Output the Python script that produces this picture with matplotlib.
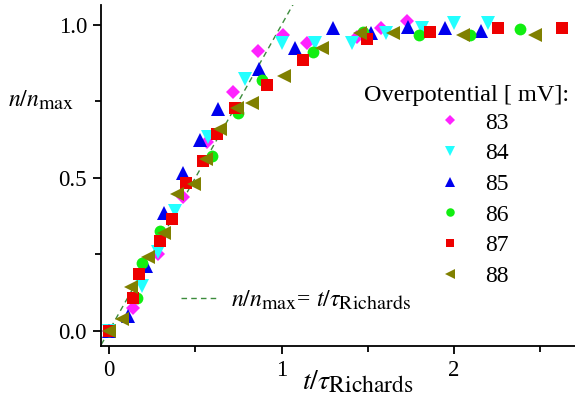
import matplotlib
matplotlib.use("Agg")
import matplotlib.pyplot as plt
from matplotlib.ticker import MultipleLocator
import matplotlib._mathtext as _mt

_mt.SHRINK_FACTOR = 0.85

plt.rcParams['font.family'] = ['Liberation Serif', 'DejaVu Serif']
plt.rcParams['mathtext.fontset'] = 'stix'

labels = ['83', '84', '85', '86', '87', '88']
colors = ['#ff22ff', '#22ffff', '#0000ee', '#11ee11', '#ee0000', '#808000']
markers = ['D', 'v', '^', 'o', 's', '<']
sizes = [7, 9.5, 9.5, 8.5, 8, 9.5]

x83 = [0.0, 0.139, 0.284, 0.429, 0.568, 0.719, 0.864, 1.009, 1.148, 1.438, 1.577, 1.728]
y83 = [0.0, 0.075, 0.252, 0.438, 0.618, 0.781, 0.915, 0.967, 0.941, 0.961, 0.990, 1.013]

x84 = [0.0, 0.191, 0.284, 0.383, 0.574, 0.788, 1.003, 1.194, 1.409, 1.606, 1.814, 2.000, 2.197]
y84 = [0.0, 0.147, 0.258, 0.392, 0.634, 0.824, 0.941, 0.941, 0.941, 0.974, 0.990, 1.007, 1.007]

x85 = [0.0, 0.110, 0.214, 0.319, 0.429, 0.528, 0.632, 0.870, 1.078, 1.299, 1.519, 1.733, 1.948, 2.157]
y85 = [0.0, 0.049, 0.212, 0.386, 0.516, 0.624, 0.725, 0.856, 0.925, 0.990, 0.974, 0.993, 0.990, 0.980]

x86 = [0.0, 0.162, 0.191, 0.296, 0.597, 0.748, 0.887, 1.183, 1.472, 1.797, 2.093, 2.383]
y86 = [0.0, 0.108, 0.222, 0.327, 0.572, 0.712, 0.820, 0.912, 0.977, 0.967, 0.967, 0.987]

x87 = [0.0, 0.139, 0.174, 0.296, 0.365, 0.446, 0.545, 0.626, 0.730, 0.916, 1.125, 1.496, 1.861, 2.255, 2.626]
y87 = [0.0, 0.108, 0.186, 0.294, 0.366, 0.484, 0.556, 0.644, 0.729, 0.804, 0.886, 0.954, 0.977, 0.990, 0.990]

x88 = [0.0, 0.075, 0.128, 0.226, 0.319, 0.394, 0.493, 0.562, 0.643, 0.742, 0.829, 1.014, 1.235, 1.455, 1.646, 2.052, 2.470]
y88 = [0.0, 0.039, 0.144, 0.242, 0.320, 0.448, 0.480, 0.562, 0.660, 0.729, 0.745, 0.833, 0.925, 0.974, 0.974, 0.967, 0.967]

xs = [x83, x84, x85, x86, x87, x88]
ys = [y83, y84, y85, y86, y87, y88]

line_x = [-0.1, 1.2]

fig = plt.figure(figsize=(5.75, 3.96), dpi=100)
ax = fig.add_axes([101/575, 50/396, 1 - 101/575, (346-5)/396])

ax.plot(line_x, line_x, linestyle=(0, (4, 3)), color='#3c8c3c', lw=1.0, zorder=1,
        label=r'$n/n_{\mathrm{max}}$= $t/\tau_{\mathrm{Richards}}$')

handles = []
for x, y, c, m, s, l in zip(xs, ys, colors, markers, sizes, labels):
    h, = ax.plot(x, y, linestyle='none', marker=m, color=c, markersize=s,
                 markeredgewidth=0, label=l, zorder=3)
    handles.append(h)

ax.set_xlim(-0.046, 2.70)
ax.set_ylim(-0.049, 1.065)
ax.xaxis.set_minor_locator(MultipleLocator(0.5))
ax.yaxis.set_minor_locator(MultipleLocator(0.25))
ax.set_xticks([0, 1, 2])
ax.set_xticklabels(['0', '1', '2'])
ax.set_yticks([0.0, 0.5, 1.0])
ax.set_yticklabels(['0.0', '0.5', '1.0'])
for s in ['top', 'right']:
    ax.spines[s].set_visible(False)
for s in ['left', 'bottom']:
    ax.spines[s].set_linewidth(1.3)
ax.tick_params(which='major', direction='out', length=6, width=1.3, labelsize=16.5, pad=4)
ax.tick_params(which='minor', direction='out', length=4, width=1.3)

fig.text(0.072, 1 - 100/396, r'$n/n_{\mathrm{max}}$', fontsize=17, ha='center', va='center')
fig.text(358/575, 1 - 382/396, r'$t/\tau_{\mathrm{Richards}}$', fontsize=20, ha='center', va='center')

fig.text(569/575, 1 - 96/396, 'Overpotential [ mV]:', fontsize=17.5, ha='right', va='center')

leg1 = ax.legend(handles=handles, loc='upper left',
                 bbox_to_anchor=(438/575, 1 - 112/396), bbox_transform=fig.transFigure,
                 frameon=False, fontsize=17, markerscale=0.72, borderpad=0.0,
                 handlelength=1.0, handletextpad=1.0, labelspacing=0.39, borderaxespad=0.0)
ax.add_artist(leg1)

line_handle = ax.get_lines()[0]
ax.legend(handles=[line_handle], loc='center left', bbox_to_anchor=(160/575, 1 - 300/396),
          bbox_transform=fig.transFigure, frameon=False, fontsize=17,
          handlelength=1.6, handletextpad=0.5)

fig.savefig('out.png', dpi=100)
